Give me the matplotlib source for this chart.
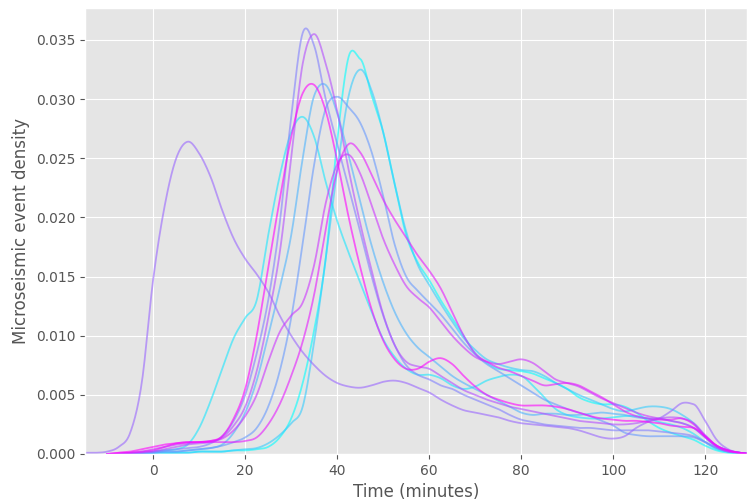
import numpy as np
import matplotlib
matplotlib.use("Agg")
import matplotlib.pyplot as plt

plt.style.use("ggplot")

nan = np.nan
# Evaluation grid (minutes)
time_grid = np.arange(-15, 130.01, 2.5)

# Density values, in units of 1e-4
curve_early = [1, 1, 2, 6, 18, 60,
               148, 210, 250, 264, 254, 234,
               206, 182, 165, 152, 137, 117,
               100, 86, 75, 66, 60, 57,
               56, 58, 61, 62, 60, 56,
               52, 46, 41, 37, 35, 33,
               31, 28, 26, 25, 24, 23,
               22, 20, 17, 14, 13, 15,
               22, 27, 30, 36, 43, 42,
               28, 12, 4, 1, 0]
curve_p1 = [nan, nan, 0, 0, 0, 1,
            2, 3, 4, 5, 6, 9,
            15, 28, 50, 85, 130, 195,
            285, 356, 345, 300, 262, 225,
            188, 150, 117, 92, 75, 67,
            63, 58, 55, 50, 46, 42,
            38, 33, 29, 27, 25, 24,
            23, 22, 22, 21, 20, 20,
            20, 20, 19, 18, 17, 15,
            10, 5, 2, 1, 0]
curve_p2 = [nan, nan, 0, 0, 1, 1,
            2, 4, 6, 8, 9, 10,
            14, 24, 40, 70, 115, 170,
            250, 330, 355, 330, 290, 240,
            195, 155, 118, 92, 78, 74,
            72, 66, 60, 54, 50, 46,
            43, 40, 38, 36, 34, 32,
            30, 28, 27, 26, 25, 25,
            26, 28, 30, 31, 30, 26,
            16, 7, 3, 1, 0]
curve_m1 = [nan, nan, 0, 1, 2, 4,
            6, 8, 9, 10, 10, 11,
            15, 30, 55, 100, 158, 215,
            268, 305, 312, 290, 248, 200,
            158, 122, 96, 80, 72, 72,
            78, 81, 76, 66, 57, 50,
            46, 43, 41, 41, 41, 40,
            38, 35, 32, 30, 29, 28,
            28, 27, 26, 24, 23, 22,
            15, 7, 3, 1, 0]
curve_b1 = [nan, nan, 0, 0, 0, 1,
            1, 2, 2, 3, 4, 5,
            8, 18, 35, 62, 100, 140,
            185, 250, 303, 312, 288, 252,
            213, 176, 145, 120, 102, 90,
            82, 74, 66, 60, 55, 50,
            45, 40, 35, 33, 34, 34,
            33, 33, 34, 35, 34, 33,
            31, 30, 30, 28, 26, 22,
            14, 6, 2, 1, 0]
curve_b2 = [nan, nan, 0, 0, 0, 1,
            1, 2, 2, 3, 4, 5,
            7, 10, 14, 22, 40, 70,
            115, 178, 245, 292, 302, 293,
            280, 255, 218, 177, 150, 138,
            128, 118, 106, 94, 84, 76,
            70, 64, 58, 52, 46, 42,
            38, 35, 32, 28, 24, 18,
            16, 15, 15, 15, 15, 14,
            10, 5, 2, 1, 0]
curve_c1 = [nan, nan, 0, 0, 1, 1,
            2, 3, 4, 8, 22, 45,
            72, 98, 115, 130, 185, 235,
            272, 285, 268, 230, 197, 170,
            145, 120, 97, 82, 72, 67,
            67, 64, 58, 55, 57, 62,
            65, 67, 66, 58, 48, 38,
            33, 31, 30, 30, 31, 32,
            32, 30, 27, 25, 22, 17,
            10, 4, 2, 1, 0]
curve_c2 = [nan, nan, 0, 0, 0, 0,
            1, 1, 1, 1, 2, 2,
            2, 3, 3, 4, 6, 14,
            30, 60, 105, 165, 265, 336,
            334, 303, 272, 228, 185, 162,
            147, 130, 115, 100, 85, 77,
            72, 71, 70, 68, 64, 60,
            55, 48, 44, 42, 42, 40,
            35, 28, 22, 18, 15, 12,
            7, 3, 1, 0, 0]
curve_b3 = [nan, nan, 0, 0, 0, 0,
            1, 1, 1, 1, 2, 2,
            2, 3, 4, 5, 9, 16,
            26, 40, 95, 165, 240, 303,
            325, 307, 272, 228, 188, 160,
            143, 127, 112, 98, 88, 80,
            76, 73, 71, 70, 66, 60,
            55, 50, 46, 42, 38, 36,
            38, 40, 40, 38, 33, 26,
            15, 7, 3, 1, 0]
curve_m2 = [nan, nan, 0, 1, 1, 2,
            3, 6, 9, 10, 10, 10,
            10, 10, 11, 14, 25, 42,
            66, 95, 135, 190, 240, 262,
            255, 236, 215, 198, 183, 168,
            155, 140, 120, 100, 85, 78,
            73, 70, 66, 62, 58, 59,
            60, 58, 53, 48, 42, 36,
            32, 30, 29, 29, 30, 25,
            15, 7, 3, 1, 0]
curve_p3 = [nan, nan, 0, 0, 1, 2,
            4, 6, 8, 9, 10, 11,
            13, 20, 32, 50, 78, 103,
            117, 128, 160, 212, 245, 253,
            237, 210, 182, 160, 142, 132,
            124, 112, 100, 90, 82, 78,
            76, 78, 80, 77, 70, 63,
            60, 57, 52, 47, 43, 39,
            35, 32, 30, 28, 26, 22,
            14, 6, 2, 1, 0]

# order along the 'cool' colormap (cyan -> magenta)
curves = [curve_c2, curve_c1, curve_b3, curve_b1, curve_b2, curve_p1,
          curve_early, curve_p2, curve_p3, curve_m2, curve_m1]
color_pos = [0.0, 0.1, 0.2, 0.3, 0.4, 0.5, 0.6, 0.7, 0.8, 0.9, 1.0]


def smooth(x, y, n=12):
    """Cubic Hermite drawing through the points: central-difference
    tangents, limited on monotone stretches to avoid overshoot."""
    x = np.asarray(x, float)
    y = np.asarray(y, float)
    h = np.diff(x)
    d = np.diff(y) / h
    m = np.zeros_like(y)
    m[0], m[-1] = d[0], d[-1]
    for i in range(1, len(y) - 1):
        c = (y[i + 1] - y[i - 1]) / (x[i + 1] - x[i - 1])
        if d[i - 1] * d[i] > 0:
            lim = 3 * min(abs(d[i - 1]), abs(d[i]))
            c = np.sign(c) * min(abs(c), lim)
        m[i] = c
    xs, ys = [], []
    for i in range(len(x) - 1):
        t = np.linspace(0, 1, n, endpoint=False)
        h00 = 2 * t ** 3 - 3 * t ** 2 + 1
        h10 = t ** 3 - 2 * t ** 2 + t
        h01 = -2 * t ** 3 + 3 * t ** 2
        h11 = t ** 3 - t ** 2
        yy = (h00 * y[i] + h10 * h[i] * m[i] + h01 * y[i + 1]
              + h11 * h[i] * m[i + 1])
        xs.append(x[i] + h[i] * t)
        ys.append(yy)
    xs.append([x[-1]])
    ys.append([y[-1]])
    return np.concatenate(xs), np.maximum(np.concatenate(ys), 0)


fig = plt.figure(figsize=(7.47, 5.03), dpi=100)
ax = fig.add_axes([0.114, 0.0975, 0.886, 0.8865])
cmap = plt.get_cmap("cool")
for vals, cp in zip(curves, color_pos):
    arr = np.array(vals, float) * 1e-4
    m = np.isfinite(arr)
    sx, sy = smooth(time_grid[m], arr[m])
    ax.plot(sx, sy, color=cmap(cp), alpha=0.6, lw=1.3)

ax.set_xlim(-14.8, 129.1)
ax.set_ylim(0, 0.0377)
ax.set_xticks([0, 20, 40, 60, 80, 100, 120])
ax.set_yticks(np.arange(0, 0.0351, 0.005))
ax.yaxis.set_major_formatter(matplotlib.ticker.FormatStrFormatter("%.3f"))
ax.tick_params(labelsize=10, colors="#555555")
ax.set_xlabel("Time (minutes)", fontsize=12, color="#555555")
ax.set_ylabel("Microseismic event density", fontsize=12, color="#555555")
fig.savefig("out.png", dpi=100)
